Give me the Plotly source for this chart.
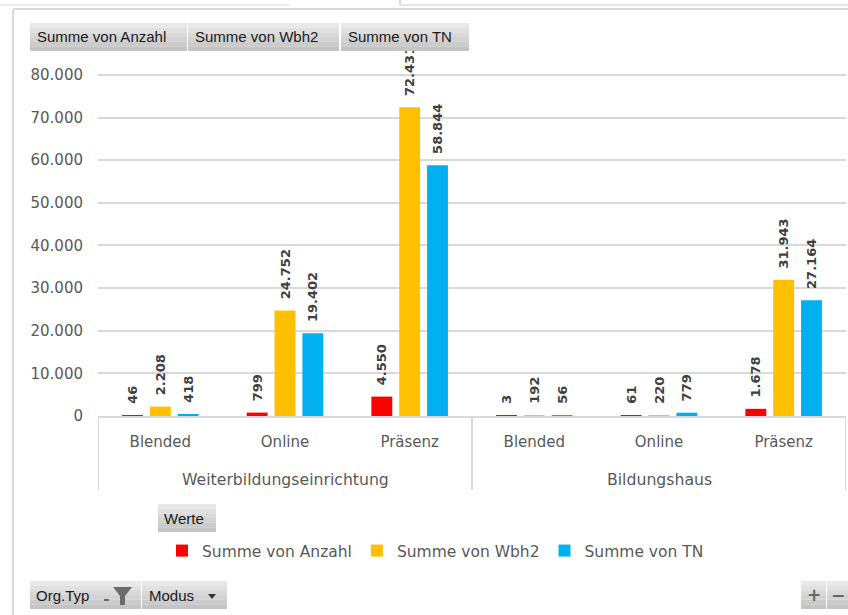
import plotly.graph_objects as go

# ---- data ----
org_types = ["Weiterbildungseinrichtung"] * 3 + ["Bildungshaus"] * 3
modes = ["Blended", "Online", "Präsenz", "Blended", "Online", "Präsenz"]
series_names = ["Summe von Anzahl", "Summe von Wbh2", "Summe von TN"]
anzahl = [46, 799, 4550, 3, 61, 1678]
wbh2 = [2208, 24752, 72431, 192, 220, 31943]
tn = [418, 19402, 58844, 56, 779, 27164]
colors = ["#FF0000", "#FFC000", "#00B0F0"]
y_ticks = [0, 10000, 20000, 30000, 40000, 50000, 60000, 70000, 80000]

W, H = 848, 615
ML, MR, MT, MB = 98, 2, 51, 199
PW, PH = W - ML - MR, H - MT - MB


def px(x):
    return (x - ML) / PW


def py(y):
    return (H - MB - y) / PH


xpos = list(range(len(modes)))

fig = go.Figure()
for name, vals, col in zip(series_names, [anzahl, wbh2, tn], colors):
    fig.add_trace(go.Bar(
        name=name,
        x=xpos,
        y=vals,
        marker=dict(color=col, line=dict(width=0)),
        texttemplate="\u00a0\u00a0<b>%{y:,.0f}</b>",
        textposition="outside",
        textangle=-90,
        constraintext="none",
        cliponaxis=False,
        textfont=dict(family="DejaVu Sans", size=13, color="#404040"),
        hoverinfo="skip",
    ))

shapes = []
annotations = []


def button(x0, x1, y0, y1, text=None, tx=None, size=15):
    n = 6
    for i in range(n):
        ya = y0 + (y1 - y0) * i / n
        yb = y0 + (y1 - y0) * (i + 1) / n
        g = int(232 - (232 - 196) * i / (n - 1))
        shapes.append(dict(type="rect", xref="paper", yref="paper",
                           x0=px(x0), x1=px(x1), y0=py(ya), y1=py(yb),
                           fillcolor=f"rgb({g},{g},{g})", line=dict(width=0),
                           layer="above"))
    if text is not None:
        annotations.append(dict(text=text, xref="paper", yref="paper",
                                x=px(tx if tx is not None else x0 + 5), xanchor="left",
                                y=py((y0 + y1) / 2), yanchor="middle", showarrow=False,
                                font=dict(family="Liberation Sans", size=size, color="#1a1a1a")))


# top field buttons
button(30, 187, 23, 51, "Summe von Anzahl", 35)
button(188, 339, 23, 51, "Summe von Wbh2", 193)
button(341, 469, 23, 51, "Summe von TN", 346)
# Werte button
button(158, 216, 504, 532, "Werte", 162)
# bottom field buttons
button(30, 141, 581, 609, "Org.Typ", 34)
button(142, 227, 581, 609, "Modus", 147)
button(801, 826, 581, 609)
button(827, 848, 581, 609)


def path(points):
    return "M " + " L ".join(f"{px(x)},{py(y)}" for x, y in points) + " Z"


# funnel icon
shapes.append(dict(type="path", xref="paper", yref="paper",
                   path=path([(113, 587), (132, 587), (125, 596), (125, 605), (120, 605), (120, 596)]),
                   fillcolor="#6b6b6b", line=dict(width=0), layer="above"))
shapes.append(dict(type="rect", xref="paper", yref="paper",
                   x0=px(104), x1=px(109), y0=py(601), y1=py(599),
                   fillcolor="#6b6b6b", line=dict(width=0), layer="above"))
# dropdown triangle
shapes.append(dict(type="path", xref="paper", yref="paper",
                   path=path([(208, 594), (216, 594), (212, 599)]),
                   fillcolor="#333333", line=dict(width=0), layer="above"))
# + and - glyphs
annotations.append(dict(text="<b>+</b>", xref="paper", yref="paper", x=px(813.5), y=py(595),
                        xanchor="center", yanchor="middle", showarrow=False,
                        font=dict(family="DejaVu Sans", size=17, color="#666666")))
annotations.append(dict(text="<b>\u2212</b>", xref="paper", yref="paper", x=px(837.5), y=py(595),
                        xanchor="center", yanchor="middle", showarrow=False,
                        font=dict(family="DejaVu Sans", size=17, color="#666666")))

# frame lines (worksheet / chart border)
for (x0, y0, x1, y1, c) in [(13, 10, 13, 615, "#d9d9d9"), (13, 9, 848, 9, "#d9d9d9"),
                            (0, 5, 290, 5, "#ececec"), (400, 0, 400, 5, "#d9d9d9"),
                            (400, 5, 848, 5, "#e6e6e6")]:
    shapes.append(dict(type="line", xref="paper", yref="paper",
                       x0=px(x0), x1=px(x1), y0=py(y0), y1=py(y1),
                       line=dict(color=c, width=2), layer="above"))

# group labels and dividers of the two-level category axis
groups = []
for i, g in enumerate(org_types):
    if not groups or groups[-1][0] != g:
        groups.append([g, i, i])
    else:
        groups[-1][2] = i
bounds = [groups[0][1] - 0.5] + [g[2] + 0.5 for g in groups]
for b in bounds:
    shapes.append(dict(type="line", xref="x", yref="paper", x0=b, x1=b,
                       y0=py(416), y1=py(490), line=dict(color="#d9d9d9", width=2),
                       layer="above"))
for g, i0, i1 in groups:
    annotations.append(dict(text=g, xref="x", yref="paper", x=(i0 + i1) / 2, y=py(479),
                            xanchor="center", yanchor="middle", showarrow=False,
                            font=dict(family="DejaVu Sans", size=15.7, color="#595959")))

fig.update_layout(
    width=W, height=H,
    margin=dict(l=ML, r=MR, t=MT, b=MB, pad=0),
    paper_bgcolor="white", plot_bgcolor="white",
    separators=",.",
    barmode="group",
    bargap=0.33,
    bargroupgap=0.25,
    font=dict(family="DejaVu Sans", color="#595959"),
    showlegend=True,
    legend=dict(orientation="h", x=px(162), xanchor="left", y=py(551), yanchor="middle",
                font=dict(family="DejaVu Sans", size=15.5, color="#595959"),
                bgcolor="rgba(0,0,0,0)", traceorder="normal"),
    xaxis=dict(range=[bounds[0], bounds[-1]], tickvals=xpos, ticktext=modes,
               showline=True, linecolor="#d9d9d9", linewidth=2,
               tickfont=dict(family="DejaVu Sans", size=15, color="#595959"),
               showgrid=False, zeroline=False, ticks="", ticklabelstandoff=11),
    yaxis=dict(range=[0, 85627], tickvals=y_ticks, tickformat=",.0f",
               showgrid=True, gridcolor="#d9d9d9", gridwidth=2, zeroline=False,
               showline=False, ticks="", ticklabelstandoff=14,
               tickfont=dict(family="DejaVu Sans", size=15, color="#595959")),
    shapes=shapes,
    annotations=annotations,
)

fig.write_html("out.html", config={"displayModeBar": False},
               post_script="document.body.style.margin='0';document.body.style.padding='0';")
